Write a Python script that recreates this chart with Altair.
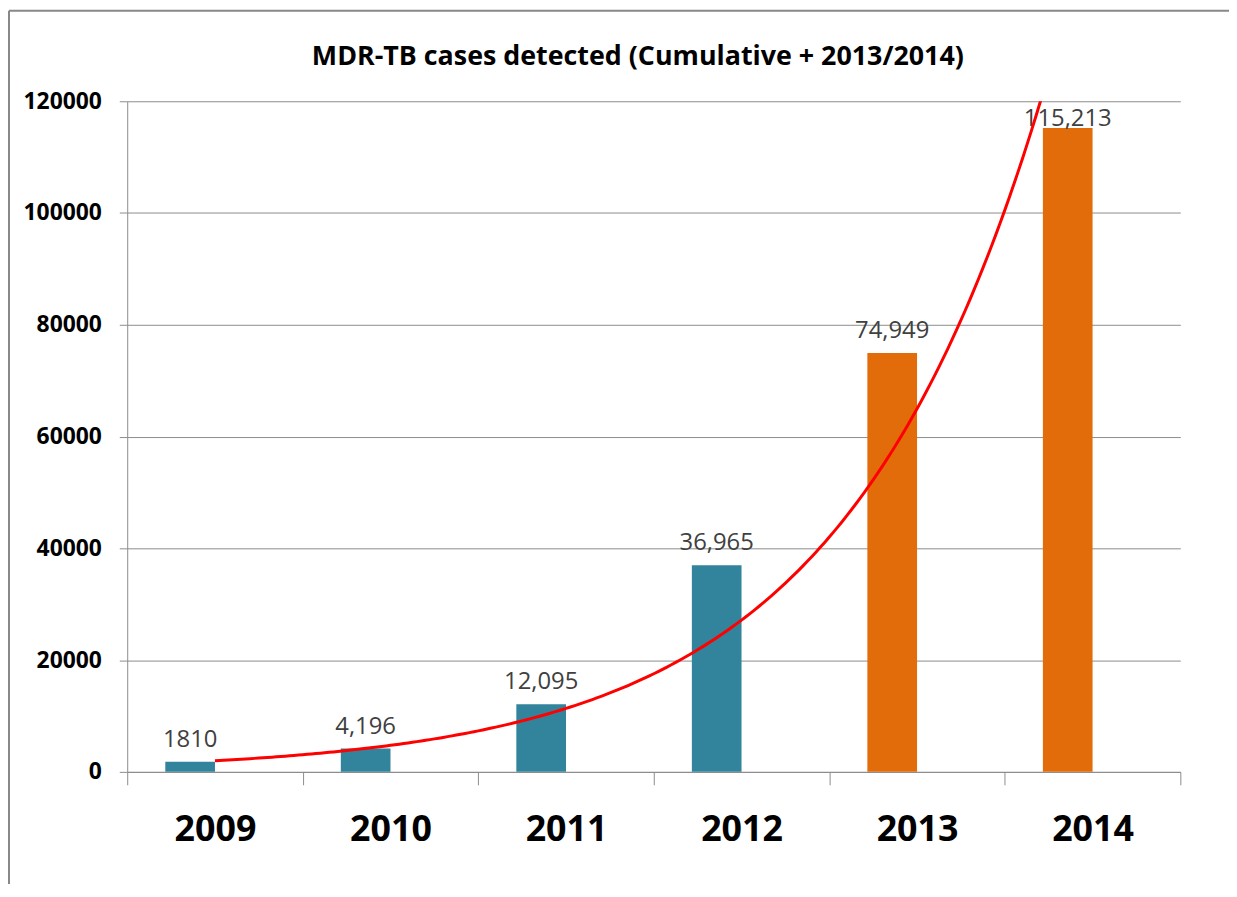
import altair as alt
import pandas as pd

years = ["2009", "2010", "2011", "2012", "2013", "2014"]
cases = [1810, 4196, 12095, 36965, 74949, 115213]
value_labels = ["1810", "4,196", "12,095", "36,965", "74,949", "115,213"]
series = ["Cumulative", "Cumulative", "Cumulative", "Cumulative", "2013/2014", "2013/2014"]
series_domain = ["Cumulative", "2013/2014"]
series_colors = ["#31849B", "#E36C0A"]
y_ticks = [0, 20000, 40000, 60000, 80000, 100000, 120000]
title_text = "MDR-TB cases detected (Cumulative + 2013/2014)"

df = pd.DataFrame({
    "year": years,
    "idx": list(range(1, len(years) + 1)),
    "cases": cases,
    "label": value_labels,
    "series": series,
})

W, H = 1060, 675
FONT = "Open Sans"
GRAY = "#8c8c8c"
N = len(years)

base = alt.Chart(df)

x_band = alt.X(
    "year:O",
    sort=years,
    scale=alt.Scale(paddingInner=0, paddingOuter=0),
    axis=alt.Axis(
        title=None, labelAngle=0, tickBand="extent", tickSize=13, tickColor=GRAY,
        domainColor=GRAY, labelFont=FONT, labelFontSize=36, labelFontWeight="bold",
        labelColor="#000000", labelPadding=28,
    ),
)
y_scale = alt.Scale(domain=[0, 120000], nice=False)
y_axis = alt.Y(
    "cases:Q",
    scale=y_scale,
    axis=alt.Axis(
        title=None, values=y_ticks, format="d", tickSize=8, tickColor=GRAY,
        domainColor=GRAY, gridColor=GRAY, gridOpacity=1, labelFont=FONT,
        labelFontSize=23, labelFontWeight="bold", labelColor="#000000", labelPadding=18,
    ),
)

bars = base.mark_bar(width=50, xOffset=-25).encode(
    x=x_band,
    y=y_axis,
    color=alt.Color("series:N", scale=alt.Scale(domain=series_domain, range=series_colors), legend=None),
)

labels = base.transform_calculate(
    label_y="min(datum.cases, 112900)"
).mark_text(
    dx=-25, dy=-15, baseline="alphabetic", font=FONT, fontSize=24, color="#404040"
).encode(
    x=alt.X("year:O", sort=years),
    y=alt.Y("label_y:Q", scale=y_scale),
    text="label:N",
)

bar_layer = alt.layer(bars, labels)

# Exponential trendline (least squares on log values, as a spreadsheet trendline does)
trend = base.transform_calculate(
    lc="log(datum.cases)"
).transform_joinaggregate(
    mx="mean(idx)", my="mean(lc)"
).transform_calculate(
    dxdy="(datum.idx - datum.mx) * (datum.lc - datum.my)",
    dx2="(datum.idx - datum.mx) * (datum.idx - datum.mx)",
).transform_joinaggregate(
    sxy="sum(dxdy)", sxx="sum(dx2)"
).transform_calculate(
    b="datum.sxy / datum.sxx"
).transform_calculate(
    a="datum.my - datum.b * datum.mx"
).transform_filter(
    "datum.idx == 1"
).transform_calculate(
    t=f"sequence(1, {N} + 0.001, 0.025)"
).transform_flatten(
    ["t"]
).transform_calculate(
    fit="exp(datum.a + datum.b * datum.t)"
).mark_line(color="#FF0000", strokeWidth=3, clip=True).encode(
    x=alt.X("t:Q", scale=alt.Scale(domain=[0.5, N + 0.5], nice=False, zero=False), axis=None),
    y=alt.Y("fit:Q", scale=y_scale),
)

one = alt.Data(values=[{"f": 1}])
frame_left = alt.Chart(one).mark_rule(color="#888888", strokeWidth=2).encode(
    x=alt.value(-119), y=alt.value(-91), y2=alt.value(H + 120)
)
frame_top = alt.Chart(one).mark_rule(color="#888888", strokeWidth=2).encode(
    x=alt.value(-119), x2=alt.value(W + 60), y=alt.value(-91)
)
title = alt.Chart(one).mark_text(
    text=title_text, font=FONT, fontSize=27, fontWeight="bold", color="#000000",
    align="center", baseline="alphabetic",
).encode(x=alt.value(514), y=alt.value(-36))

chart = alt.layer(bar_layer, trend, frame_left, frame_top, title).resolve_scale(
    x="independent"
).properties(
    width=W,
    height=H,
    autosize=alt.AutoSizeParams(type="none"),
    padding={"left": 120, "top": 91, "right": 49, "bottom": 110},
).configure_view(stroke=None)

chart.save("out.html", embed_options={"renderer": "svg", "actions": False})
